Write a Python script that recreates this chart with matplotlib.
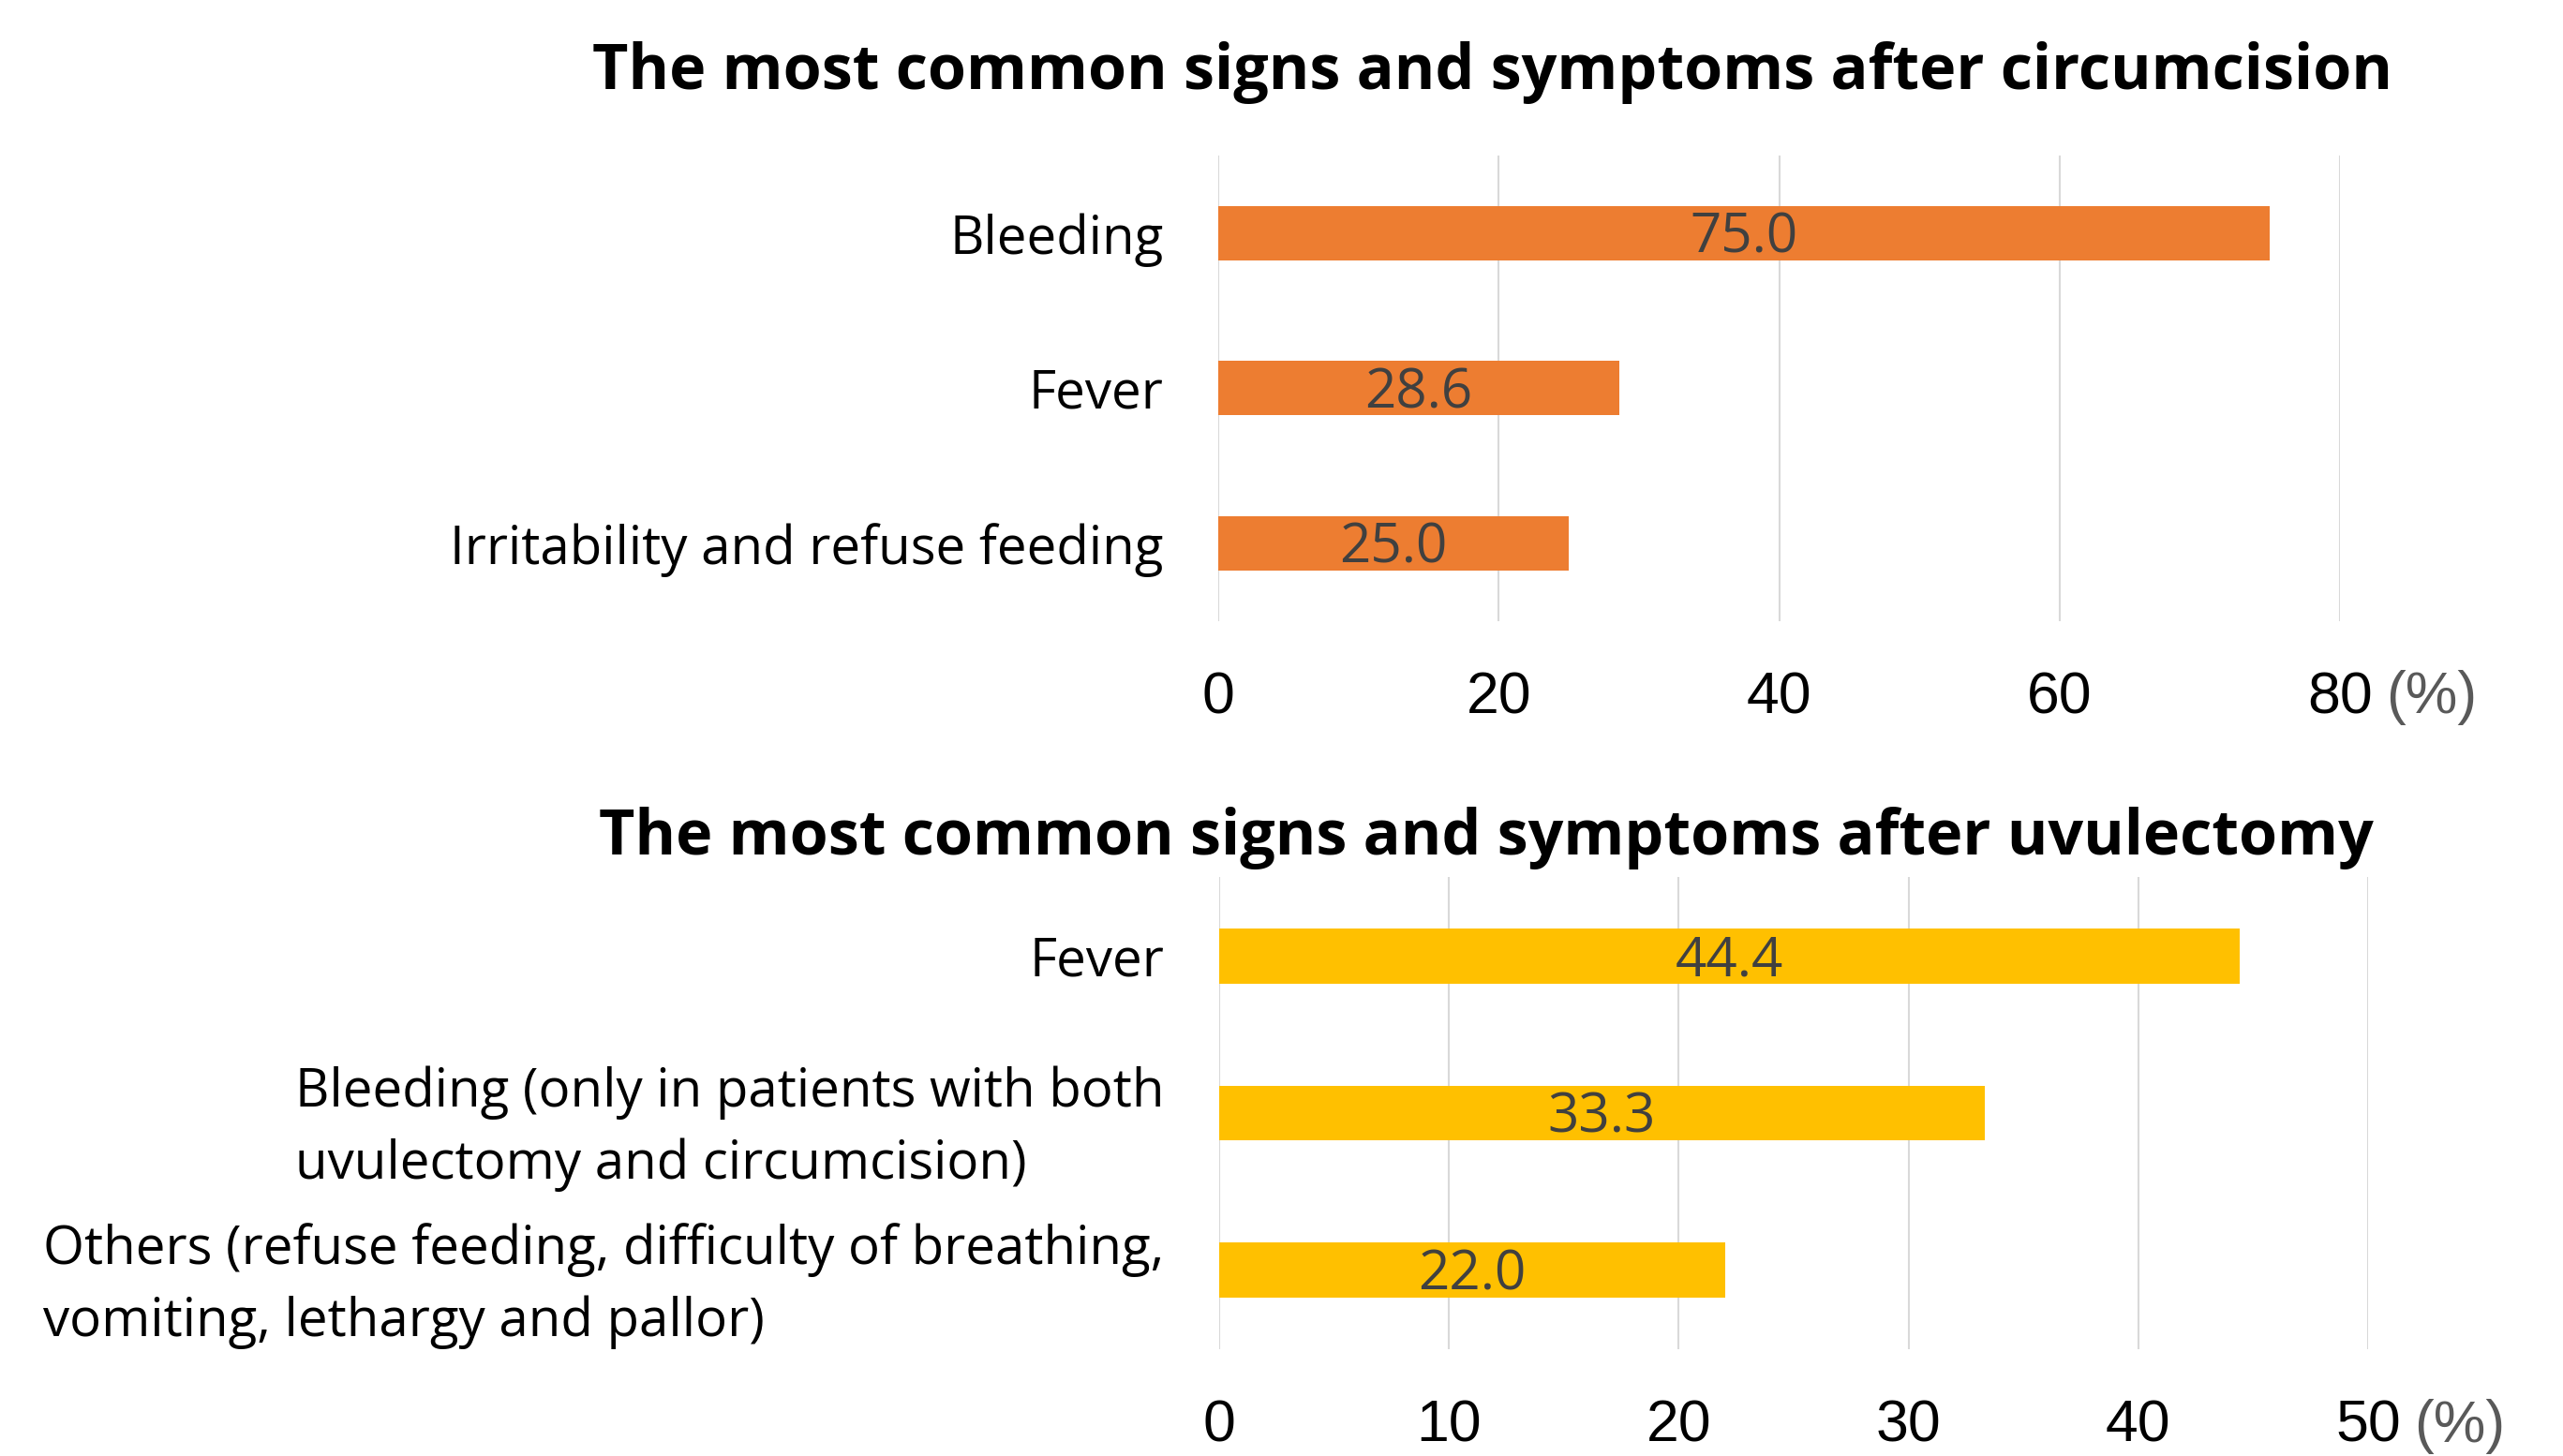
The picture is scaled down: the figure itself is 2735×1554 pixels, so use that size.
import numpy as np
import matplotlib.pyplot as plt

circ_labels = ['Bleeding', 'Fever', 'Irritability and refuse feeding']
circ_values = [75.0, 28.6, 25.0]
circ_ticks = [0, 20, 40, 60, 80]

uvu_labels = ['Fever',
              'Bleeding (only in patients with both\nuvulectomy and circumcision)',
              'Others (refuse feeding, difficulty of breathing,\nvomiting, lethargy and pallor)']
uvu_values = [44.4, 33.3, 22.0]
uvu_ticks = [0, 10, 20, 30, 40, 50]

LABEL_FONT = 'Open Sans'
TICK_FONT = 'Liberation Sans'


def hbar_panel(ax, labels, values, ticks, color):
    y = np.arange(len(labels))
    rects = ax.barh(y, values, height=0.35, color=color, zorder=2)
    ax.set_ylim(len(labels) - 0.5, -0.5)
    ax.set_xlim(ticks[0], ticks[-1])
    ax.set_xticks(ticks)
    ax.set_xticklabels([str(t) for t in ticks], fontsize=45, family=TICK_FONT)
    ax.set_yticks(y)
    ax.set_yticklabels(labels, fontsize=40.6, family=LABEL_FONT, linespacing=1.45)
    for lab in ax.get_yticklabels():
        lab.set_multialignment('left')
    ax.tick_params(axis='x', length=0, pad=38)
    ax.tick_params(axis='y', length=0, pad=42)
    ax.grid(axis='x', color='#d9d9d9', linewidth=1.5, zorder=0)
    for s in ax.spines.values():
        s.set_visible(False)
    for rect, v in zip(rects, values):
        ax.annotate('{:.1f}'.format(v),
                    xy=(rect.get_width() / 2, rect.get_y() + rect.get_height() / 2),
                    xytext=(0, -4), textcoords='offset points',
                    ha='center', va='center',
                    fontsize=42, family=LABEL_FONT, color='#404040', zorder=3)


fig = plt.figure(figsize=(27.35, 15.54), dpi=100)

ax1 = fig.add_axes([0.4753, 0.5734, 0.4377, 0.3198])
hbar_panel(ax1, circ_labels, circ_values, circ_ticks, '#ED7D31')

ax2 = fig.add_axes([0.4757, 0.0735, 0.4483, 0.3240])
hbar_panel(ax2, uvu_labels, uvu_values, uvu_ticks, '#FFC000')

fig.text(0.5824, 0.950, 'The most common signs and symptoms after circumcision',
         ha='center', va='center', fontsize=47.8, fontweight='bold', family=LABEL_FONT)
fig.text(0.5800, 0.4245, 'The most common signs and symptoms after uvulectomy',
         ha='center', va='center', fontsize=47.8, fontweight='bold', family=LABEL_FONT)

fig.text(0.9488, 0.5212, '(%)', ha='center', va='center', fontsize=45,
         family=TICK_FONT, color='#595959')
fig.text(0.9598, 0.0205, '(%)', ha='center', va='center', fontsize=45,
         family=TICK_FONT, color='#595959')

plt.savefig('out.png', dpi=100)
